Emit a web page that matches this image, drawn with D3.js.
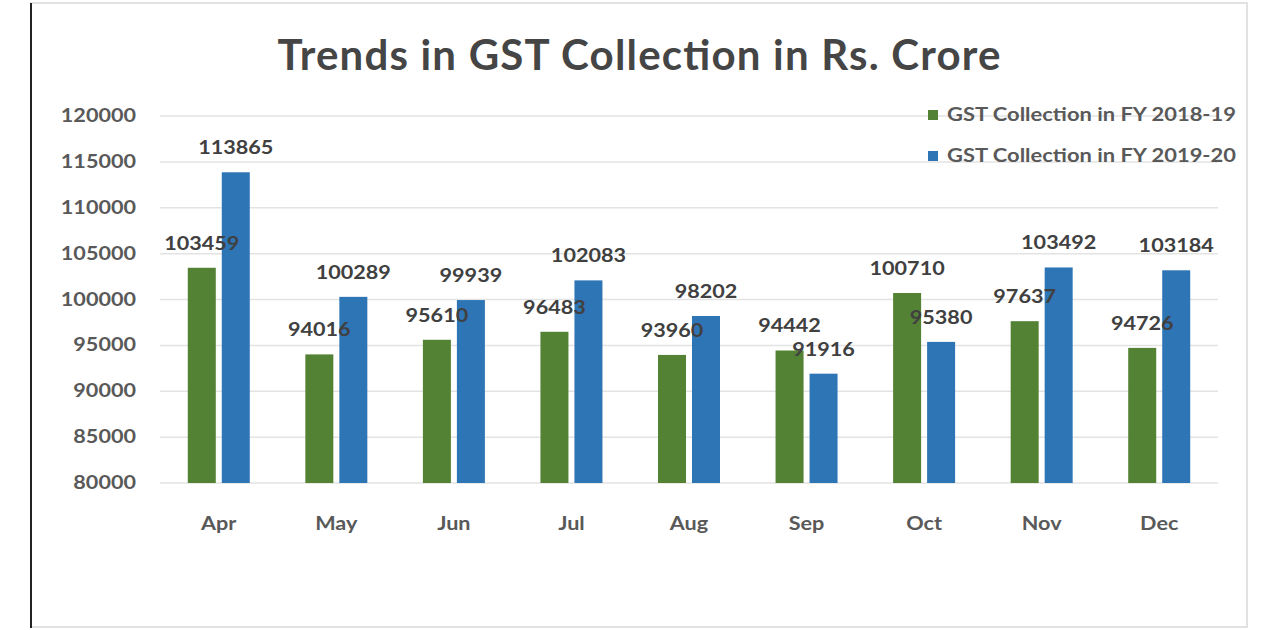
<!DOCTYPE html>
<html>

<head>
    <meta charset="utf-8">
    <title>Trends in GST Collection</title>
    <script type="text/javascript" src="https://d3js.org/d3.v7.min.js"></script>
    <style>
        body { margin: 0; background: #fff; }
        svg { display: block; font-family: Lato, "Noto Sans", sans-serif; }
    </style>
</head>

<body>
</body>

<script type="text/javascript">
    var w = 1280;
    var h = 630;

    var months = ["Apr", "May", "Jun", "Jul", "Aug", "Sep", "Oct", "Nov", "Dec"];
    var fy1819 = [103459, 94016, 95610, 96483, 93960, 94442, 100710, 97637, 94726];
    var fy1920 = [113865, 100289, 99939, 102083, 98202, 91916, 95380, 103492, 103184];
    var seriesNames = ["GST Collection in FY 2018-19", "GST Collection in FY 2019-20"];
    var colors = ["#548235", "#2e75b6"];
    var yTicks = [80000, 85000, 90000, 95000, 100000, 105000, 110000, 115000, 120000];

    var svg = d3.select("body").append("svg").attr("width", w).attr("height", h);

    // the source picture is a bit stretched sideways, so widen small text
    function stretch(sel, k) {
        sel.each(function() {
            var len = this.getComputedTextLength();
            d3.select(this).attr("textLength", len * k).attr("lengthAdjust", "spacingAndGlyphs");
        });
    }

    // frame
    svg.append("rect").attr("x", 31).attr("y", 3).attr("width", 1216).attr("height", 624)
        .attr("fill", "none").attr("stroke", "#d9d9d9").attr("stroke-width", 1.5);
    svg.append("line").attr("x1", 31).attr("x2", 31).attr("y1", 3).attr("y2", 628)
        .attr("stroke", "#222").attr("stroke-width", 2);

    var xScale = d3.scaleBand().domain(months).range([160, 1218]);
    var yScale = d3.scaleLinear().domain([80000, 120000]).range([483, 116]);

    var barW = 28, gap = 6;

    // gridlines
    svg.selectAll(".grid").data(yTicks).enter().append("line")
        .attr("x1", 160).attr("x2", 1218)
        .attr("y1", function(d) { return yScale(d); })
        .attr("y2", function(d) { return yScale(d); })
        .attr("stroke", "#e3e3e3").attr("stroke-width", 1.5);

    // y labels
    svg.selectAll(".ylab").data(yTicks).enter().append("text")
        .attr("x", 136)
        .attr("y", function(d) { return yScale(d) + 6; })
        .attr("text-anchor", "end")
        .attr("font-size", 18)
        .attr("font-weight", "bold")
        .attr("fill", "#595959")
        .text(function(d) { return d; })
        .call(stretch, 1.2);

    // x labels
    svg.selectAll(".xlab").data(months).enter().append("text")
        .attr("x", function(d) { return xScale(d) + xScale.bandwidth() / 2; })
        .attr("y", 530)
        .attr("text-anchor", "middle")
        .attr("font-size", 18)
        .attr("font-weight", "bold")
        .attr("fill", "#595959")
        .text(function(d) { return d; })
        .call(stretch, 1.2);

    var series = [fy1819, fy1920];
    function barX(i, s) {
        var off = s === 0 ? -gap / 2 - barW : gap / 2;
        return xScale(months[i]) + xScale.bandwidth() / 2 + off;
    }

    series.forEach(function(vals, s) {
        svg.selectAll(".bar" + s).data(vals).enter().append("rect")
            .attr("x", function(d, i) { return barX(i, s); })
            .attr("y", function(d) { return yScale(d); })
            .attr("width", barW)
            .attr("height", function(d) { return yScale(80000) - yScale(d); })
            .attr("fill", colors[s]);
    });

    // data labels on top of everything
    series.forEach(function(vals, s) {
        svg.selectAll(".lab" + s).data(vals).enter().append("text")
            .attr("x", function(d, i) { return barX(i, s) + barW / 2; })
            .attr("y", function(d) { return yScale(d) - 18; })
            .attr("text-anchor", "middle")
            .attr("font-size", 18)
            .attr("font-weight", "bold")
            .attr("fill", "#404040")
            .text(function(d) { return d; })
            .call(stretch, 1.2);
    });

    // title
    svg.append("text")
        .attr("x", 639).attr("y", 70)
        .attr("text-anchor", "middle")
        .attr("font-size", 42)
        .attr("font-weight", "bold")
        .attr("fill", "#454545")
        .attr("textLength", 723)
        .text("Trends in GST Collection in Rs. Crore");

    // legend
    seriesNames.forEach(function(name, s) {
        var ly = 115 + s * 41;
        svg.append("rect").attr("x", 928).attr("y", ly - 5).attr("width", 10).attr("height", 10)
            .attr("fill", colors[s]);
        svg.append("text").attr("x", 947).attr("y", ly + 6)
            .attr("font-size", 18).attr("font-weight", "bold").attr("fill", "#595959")
            .attr("textLength", 289)
            .attr("lengthAdjust", "spacingAndGlyphs")
            .text(name);
    });
</script>
</html>
